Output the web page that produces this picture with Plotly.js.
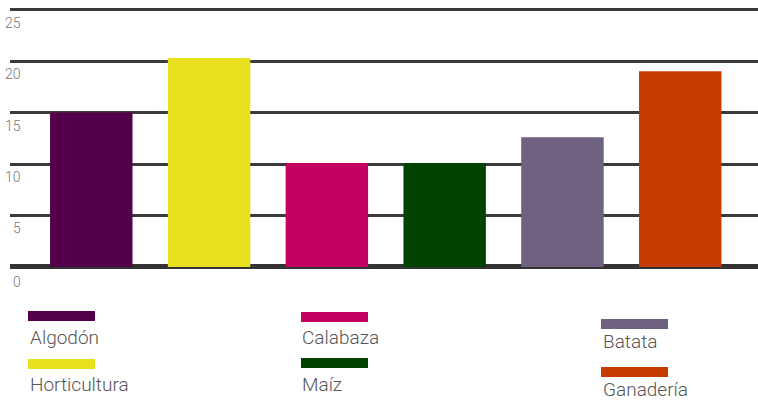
<!DOCTYPE html>
<html>
<head>
<meta charset="utf-8">
<script src="https://cdn.plot.ly/plotly-3.0.1.min.js"></script>
<style>html,body{margin:0;padding:0;background:#fff;}#chart{width:758px;height:401px;}</style>
</head>
<body>
<div id="chart"></div>
<script>
var categories = ["Algodón", "Horticultura", "Calabaza", "Maíz", "Batata", "Ganadería"];
var values = [15, 20.3, 10.1, 10.1, 12.6, 19];
var colors = ["#53004B", "#E8E01E", "#C2005F", "#004200", "#6F6180", "#C63C00"];
var tickVals = [0, 5, 10, 15, 20, 25];
var tickLabels = ["0", "5", "10", "15", "20", "25"];

// legend layout (pixel positions of legend entries)
var legendPos = [
  {bx: 28, by: 311, tx: 28, ty: 337},
  {bx: 28, by: 359, tx: 28, ty: 384},
  {bx: 301, by: 312, tx: 300, ty: 337},
  {bx: 301, by: 358, tx: 300, ty: 384},
  {bx: 601, by: 319, tx: 601, ty: 341},
  {bx: 601, by: 367, tx: 601, ty: 389}
];

var W = 758, H = 401;
var mL = 10, mR = 0, mT = 5, mB = 130;
var pw = W - mL - mR, ph = H - mT - mB;
function px(x) { return (x - mL) / pw; }
function py(y) { return (H - mB - y) / ph; }

var shapes = [];
var annotations = [];
categories.forEach(function (c, i) {
  var p = legendPos[i];
  shapes.push({type: 'rect', xref: 'paper', yref: 'paper',
    x0: px(p.bx), x1: px(p.bx + 67), y0: py(p.by + 10), y1: py(p.by),
    fillcolor: colors[i], line: {width: 0}});
  annotations.push({xref: 'paper', yref: 'paper', x: px(p.tx), y: py(p.ty),
    xanchor: 'left', yanchor: 'middle', showarrow: false, text: c,
    font: {family: 'Roboto', size: 19, weight: 300, color: '#555'}});
});
tickVals.forEach(function (v, i) {
  annotations.push({xref: 'paper', yref: 'y', x: px(23), y: v, yshift: (v === 0 ? -15 : -13),
    xanchor: 'right', yanchor: 'middle', showarrow: false, text: tickLabels[i],
    font: {family: 'Roboto', size: 14, weight: 300, color: '#777'}});
});

var trace = {
  type: 'bar',
  x: categories,
  y: values,
  marker: {color: colors, line: {width: 0}},
  hoverinfo: 'skip'
};

var layout = {
  width: W, height: H,
  margin: {l: mL, r: mR, t: mT, b: mB, pad: 0},
  paper_bgcolor: '#fff', plot_bgcolor: '#fff',
  showlegend: false,
  bargap: 0.3,
  xaxis: {type: 'category', range: [-0.69, 5.66], showticklabels: false, showgrid: false,
    zeroline: false, showline: false, ticks: ''},
  yaxis: {range: [-0.39, 25.44], tickvals: tickVals, showticklabels: false,
    showgrid: true, gridcolor: '#3a3a3a', gridwidth: 3,
    zeroline: true, zerolinecolor: '#333', zerolinewidth: 5, showline: false, ticks: ''},
  shapes: shapes,
  annotations: annotations
};

Plotly.newPlot('chart', [trace], layout, {displayModeBar: false, staticPlot: true});
</script>
</body>
</html>
